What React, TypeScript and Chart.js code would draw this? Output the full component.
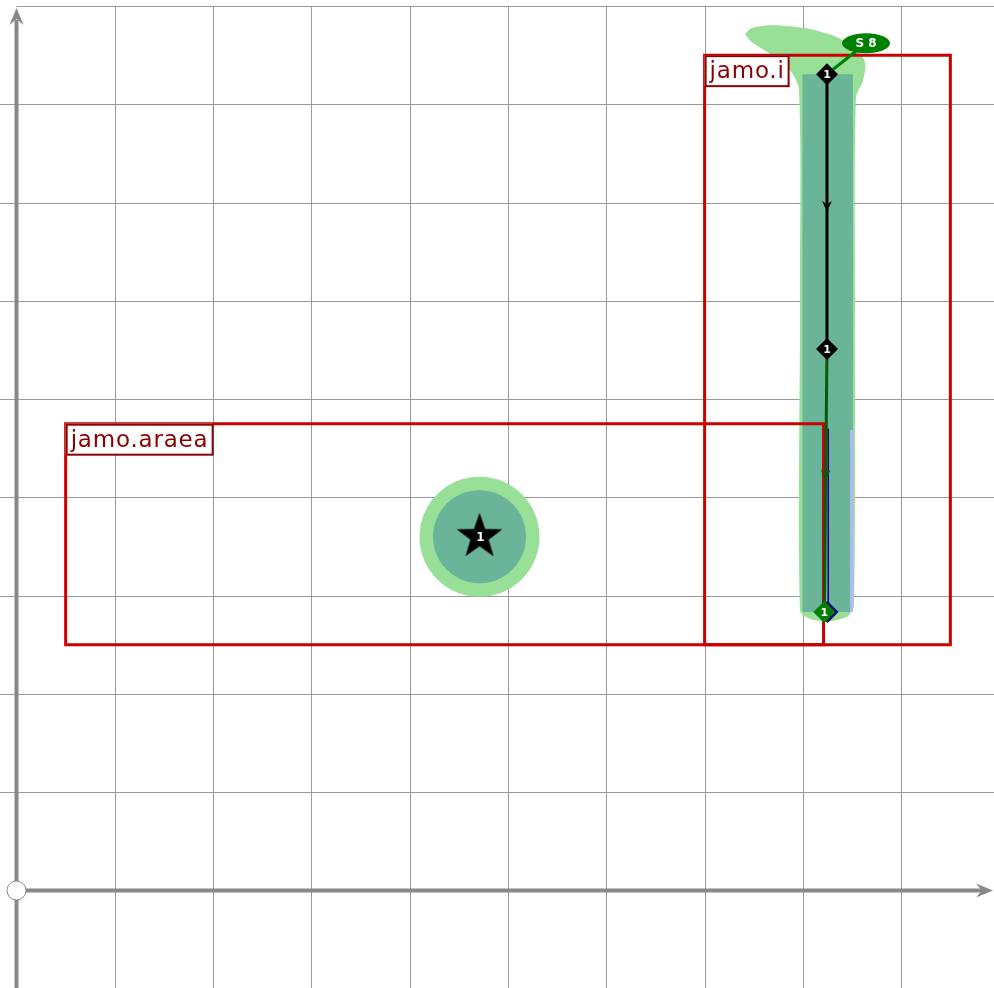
import React, { useEffect, useRef } from 'react';
import { Chart, registerables } from 'chart.js';

Chart.register(...registerables);

// ---- visible window (grid units) ----
const xBounds = [-0.168, 9.944];
const yBounds = [-0.992, 9];
const gridXValues = [1, 2, 3, 4, 5, 6, 7, 8, 9];
const gridYValues = [1, 2, 3, 4, 5, 6, 7, 8, 9];

// ---- labelled regions ----
const regionNames = ['jamo.araea', 'jamo.i'];
const regionLeft = [0.5, 7.0];
const regionRight = [8.21, 9.5];
const regionBottom = [2.5, 2.5];
const regionTop = [4.75, 8.5];

// ---- path nodes ----
const nodeX = [8.245, 8.245, 8.218];
const nodeY = [8.306, 5.509, 2.833];
const nodeLabels = ['1', '1', '1'];

// ---- companion trace ----
const traceX = [8.258, 8.258, 8.25];
const traceY = [4.7, 2.9, 2.833];

// ---- star node ----
const starX = [4.71];
const starY = [3.6];
const starLabels = ['1'];

// ---- highlight band ----
const bandX = [7.996, 8.509, 8.509, 7.996, 7.996];
const bandY = [8.306, 8.306, 2.833, 2.833, 8.306];
const haloX = [7.411, 7.47, 7.6, 7.8, 8.05, 8.33, 8.53, 8.632, 8.612, 8.54, 8.53, 8.52, 8.459, 8.337, 8.195, 8.052, 7.97, 7.97, 7.96, 7.869, 7.686, 7.482, 7.411];
const haloY = [8.713, 8.77, 8.8, 8.8, 8.77, 8.69, 8.575, 8.428, 8.245, 8.062, 6.007, 2.904, 2.792, 2.751, 2.741, 2.772, 2.853, 6.007, 8.143, 8.347, 8.5, 8.632, 8.713];
const edgeX = [8.495, 8.495];
const edgeY = [4.685, 2.833];

// ---- tag ----
const tagText = 'S 8';
const tagX = [8.642];
const tagY = [8.621];

const LIGHT = '#98df98';
const TEAL = '#6ab49a';
const RED = '#cc0000';
const DARKRED = '#8b0000';
const TAGGREEN = '#008000';
const PATHGREEN = '#0a5a0a';
const NAVY = '#000080';
const LAVENDER = '#b4b4ff';
const AXIS = '#888888';
const GRID = '#999999';

const pts = (xs: number[], ys: number[]) => xs.map((x, i) => ({ x, y: ys[i] }));
const rectPts = (i: number) => [
  { x: regionLeft[i], y: regionBottom[i] },
  { x: regionRight[i], y: regionBottom[i] },
  { x: regionRight[i], y: regionTop[i] },
  { x: regionLeft[i], y: regionTop[i] },
  { x: regionLeft[i], y: regionBottom[i] },
  { x: regionRight[i], y: regionBottom[i] },
];

function makeStar(): HTMLCanvasElement {
  const c = document.createElement('canvas');
  c.width = 50;
  c.height = 50;
  const g = c.getContext('2d')!;
  const R = 24, r = 9.6;
  g.beginPath();
  for (let k = 0; k < 10; k++) {
    const rad = k % 2 === 0 ? R : r;
    const a = -Math.PI / 2 + (k * Math.PI) / 5;
    const px = 25 + rad * Math.cos(a);
    const py = 25 + rad * Math.sin(a);
    if (k === 0) g.moveTo(px, py);
    else g.lineTo(px, py);
  }
  g.closePath();
  g.fillStyle = '#000';
  g.fill();
  return c;
}

function arrowHead(ctx: CanvasRenderingContext2D, x: number, y: number, angle: number, len: number, half: number, color: string) {
  ctx.save();
  ctx.translate(x, y);
  ctx.rotate(angle);
  ctx.beginPath();
  ctx.moveTo(0, 0);
  ctx.lineTo(-len, -half);
  ctx.lineTo(-len * 0.65, 0);
  ctx.lineTo(-len, half);
  ctx.closePath();
  ctx.fillStyle = color;
  ctx.fill();
  ctx.restore();
}

const overlayPlugin = {
  id: 'overlay',
  beforeDatasetsDraw(chart: any) {
    const { ctx, scales, chartArea } = chart;
    const xs = scales.x, ys = scales.y;
    const ox = xs.getPixelForValue(0);
    const oy = ys.getPixelForValue(0);
    ctx.save();
    // grid
    ctx.strokeStyle = GRID;
    ctx.lineWidth = 1;
    gridXValues.forEach((v) => {
      const p = Math.round(xs.getPixelForValue(v)) + 0.5;
      ctx.beginPath();
      ctx.moveTo(p, chartArea.top);
      ctx.lineTo(p, chartArea.bottom);
      ctx.stroke();
    });
    gridYValues.forEach((v) => {
      const p = Math.round(ys.getPixelForValue(v)) + 0.5;
      ctx.beginPath();
      ctx.moveTo(v === 9 ? ox : chartArea.left, p);
      ctx.lineTo(chartArea.right, p);
      ctx.stroke();
    });
    // axes
    ctx.strokeStyle = AXIS;
    ctx.lineWidth = 4;
    ctx.beginPath();
    ctx.moveTo(ox, chartArea.bottom);
    ctx.lineTo(ox, 20);
    ctx.stroke();
    ctx.beginPath();
    ctx.moveTo(ox, oy);
    ctx.lineTo(chartArea.right - 12, oy);
    ctx.stroke();
    arrowHead(ctx, ox, 8, -Math.PI / 2, 17, 7, AXIS);
    arrowHead(ctx, chartArea.right - 1, oy, 0, 17, 7, AXIS);
    ctx.restore();
  },
  afterDatasetsDraw(chart: any) {
    const { ctx, scales } = chart;
    const xs = scales.x, ys = scales.y;
    ctx.save();
    // path direction arrows
    const colors = ['#000000', PATHGREEN];
    for (let i = 0; i < nodeX.length - 1; i++) {
      const x0 = xs.getPixelForValue(nodeX[i]), y0 = ys.getPixelForValue(nodeY[i]);
      const x1 = xs.getPixelForValue(nodeX[i + 1]), y1 = ys.getPixelForValue(nodeY[i + 1]);
      const ang = Math.atan2(y1 - y0, x1 - x0);
      arrowHead(ctx, (x0 + x1) / 2, (y0 + y1) / 2, ang, 11, 5, colors[i]);
    }
    // node labels
    ctx.fillStyle = '#ffffff';
    ctx.textAlign = 'center';
    ctx.textBaseline = 'middle';
    ctx.font = 'bold 11px "DejaVu Sans"';
    nodeLabels.forEach((t, i) => {
      ctx.fillText(t, xs.getPixelForValue(nodeX[i]), ys.getPixelForValue(nodeY[i]) + 1);
    });
    ctx.font = 'bold 12px "DejaVu Sans"';
    starLabels.forEach((t, i) => {
      ctx.fillText(t, xs.getPixelForValue(starX[i]) + 1, ys.getPixelForValue(starY[i]) + 1);
    });
    // tag
    const tx = xs.getPixelForValue(tagX[0]);
    const ty = ys.getPixelForValue(tagY[0]);
    ctx.beginPath();
    ctx.ellipse(tx, ty, 24, 10, 0, 0, Math.PI * 2);
    ctx.fillStyle = TAGGREEN;
    ctx.fill();
    ctx.fillStyle = '#ffffff';
    ctx.font = 'bold 12px "DejaVu Sans"';
    ctx.fillText(tagText, tx, ty + 1);
    // region label boxes
    ctx.font = '23px "DejaVu Sans"';
    (ctx as any).letterSpacing = '0.8px';
    ctx.textAlign = 'left';
    ctx.textBaseline = 'alphabetic';
    regionNames.forEach((name, i) => {
      const bx = xs.getPixelForValue(regionLeft[i]);
      const by = ys.getPixelForValue(regionTop[i]);
      const tw = ctx.measureText(name).width;
      const w = Math.round(tw + 9);
      const h = 31;
      ctx.fillStyle = '#ffffff';
      ctx.fillRect(bx, by, w, h);
      ctx.strokeStyle = DARKRED;
      ctx.lineWidth = 2;
      ctx.strokeRect(bx + 1, by + 1, w - 1, h - 1);
      ctx.fillStyle = DARKRED;
      ctx.fillText(name, bx + 5, by + 23);
    });
    (ctx as any).letterSpacing = '0px';
    ctx.restore();
  },
};

export default function App() {
  const ref = useRef<HTMLCanvasElement | null>(null);
  useEffect(() => {
    if (!ref.current) return;
    const star = makeStar();
    const lineBase = { showLine: true, pointRadius: 0, fill: false, tension: 0, borderJoinStyle: 'miter' as const };
    const list: any[] = [
      { ...lineBase, data: pts(haloX, haloY), fill: 'shape', backgroundColor: LIGHT, borderColor: 'transparent', borderWidth: 0, tension: 0.3 },
      { data: pts(starX, starY), showLine: false, pointRadius: 60, pointBackgroundColor: LIGHT, pointBorderWidth: 0 },
      { ...lineBase, data: pts(bandX, bandY), fill: 'shape', backgroundColor: TEAL, borderColor: 'transparent', borderWidth: 0 },
      { data: pts(starX, starY), showLine: false, pointRadius: 46.5, pointBackgroundColor: TEAL, pointBorderWidth: 0 },
      { ...lineBase, data: pts(edgeX, edgeY), borderColor: LAVENDER, borderWidth: 3 },
      { ...lineBase, data: rectPts(0), borderColor: RED, borderWidth: 3 },
      { ...lineBase, data: rectPts(1), borderColor: RED, borderWidth: 3 },
      { ...lineBase, data: [{ x: tagX[0], y: tagY[0] }, { x: nodeX[0], y: nodeY[0] }], borderColor: TAGGREEN, borderWidth: 3 },
      { ...lineBase, data: pts(traceX, traceY), borderColor: NAVY, borderWidth: 1.5 },
      { ...lineBase, data: pts(nodeX.slice(0, 2), nodeY.slice(0, 2)), borderColor: '#000000', borderWidth: 3 },
      { ...lineBase, data: pts(nodeX.slice(1, 3), nodeY.slice(1, 3)), borderColor: PATHGREEN, borderWidth: 3 },
      { data: [{ x: traceX[2], y: traceY[2] }], showLine: false, pointStyle: 'rectRot', pointRadius: 11, pointBackgroundColor: NAVY, pointBorderWidth: 0 },
      { data: pts(nodeX.slice(2, 3), nodeY.slice(2, 3)), showLine: false, pointStyle: 'rectRot', pointRadius: 11, pointBackgroundColor: TAGGREEN, pointBorderWidth: 0 },
      { data: pts(nodeX.slice(0, 2), nodeY.slice(0, 2)), showLine: false, pointStyle: 'rectRot', pointRadius: 11, pointBackgroundColor: '#000000', pointBorderWidth: 0 },
      { data: pts(starX, starY), showLine: false, pointStyle: star, pointRadius: 24 },
      { data: [{ x: 0, y: 0 }], showLine: false, pointRadius: 9.5, pointBackgroundColor: '#ffffff', pointBorderColor: AXIS, pointBorderWidth: 1 },
    ];
    const n = list.length;
    const datasets = list.map((d, i) => ({ type: 'line', order: n - i, clip: false, ...d }));

    const chart = new Chart(ref.current, {
      type: 'line',
      data: { datasets },
      options: {
        animation: false,
        responsive: false,
        events: [],
        layout: { autoPadding: false, padding: { top: 6, left: 0, right: 0, bottom: 0 } },
        plugins: { legend: { display: false }, tooltip: { enabled: false } },
        scales: {
          x: { type: 'linear', display: false, min: xBounds[0], max: xBounds[1] },
          y: { type: 'linear', display: false, min: yBounds[0], max: yBounds[1] },
        },
      } as any,
      plugins: [overlayPlugin],
    } as any);
    return () => chart.destroy();
  }, []);

  return (
    <div style={{ position: 'fixed', left: 0, top: 0, width: 994, height: 988, background: '#fff' }}>
      <canvas ref={ref} width={994} height={988} style={{ display: 'block' }} />
    </div>
  );
}
